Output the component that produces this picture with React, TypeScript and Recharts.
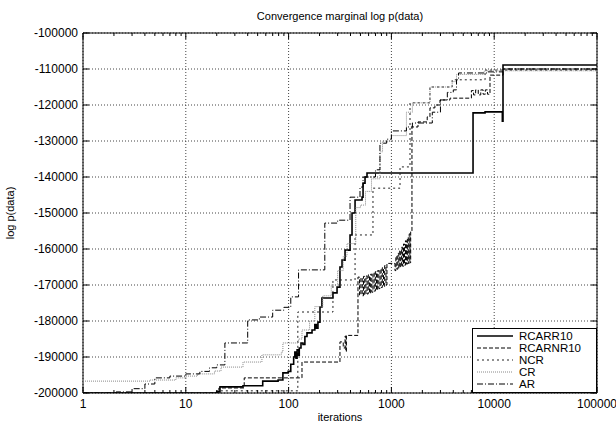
import { LineChart, Line, XAxis, YAxis, CartesianGrid, Legend, ReferenceArea } from 'recharts'

type Pt = [number, number]

const W = 616
const H = 432
const PLOT_LEFT = 83
const PLOT_RIGHT = 597
const PLOT_TOP = 33
const PLOT_BOTTOM = 393
const FONT = '"Liberation Sans", Arial, Helvetica, sans-serif'

const TITLE = 'Convergence marginal log p(data)'
const X_LABEL = 'iterations'
const Y_LABEL = 'log p(data)'

const X_MAJOR = [1, 10, 100, 1000, 10000, 100000]
const X_MINOR_MULT = [2, 3, 4, 5, 6, 7, 8, 9]
const Y_TICKS = [-200000, -190000, -180000, -170000, -160000, -150000, -140000, -130000, -120000, -110000, -100000]

// [iterations, log p(data)], drawn as steps
const RCARR10: Pt[] = [
  [1, -200000], [20, -199700], [21.5, -198300], [36, -198000], [56, -196700], [79, -196400],
  [88, -194400], [99, -194000], [105, -192000], [112, -190000], [115, -188600], [118, -190300],
  [121, -188000], [124, -189500], [127, -187500], [132, -186100], [138, -186500], [144, -184300],
  [151, -183300], [169, -182500], [180, -181000], [186, -182000], [193, -180300], [202, -176100],
  [211, -173600], [270, -172200], [296, -170600], [316, -165000], [331, -163100], [354, -160300],
  [396, -156100], [414, -150000], [443, -146400], [518, -145600], [530, -141700], [554, -140000],
  [579, -138900], [6225, -122200], [8150, -121900], [12000, -124500], [12180, -108900], [100000, -108900],
]

const RCARNR10: Pt[] = [
  [1, -200000], [20, -199800], [21, -198600], [37, -195800], [135, -191400], [316, -185800],
  [340, -187500], [354, -184200], [360, -188500], [365, -184000], [473, -167800], [490, -172800],
  [505, -168000], [520, -173000], [535, -167600], [550, -172700], [565, -167500], [580, -172500],
  [595, -167200], [612, -172300], [628, -167000], [645, -172000], [662, -166600], [680, -171700],
  [698, -166300], [716, -171400], [735, -166000], [755, -171000], [775, -165600], [795, -170700],
  [815, -165200], [838, -170400], [860, -164600], [885, -170000], [905, -164000], [1083, -166000],
  [1105, -162000], [1130, -165600], [1155, -161200], [1180, -165300], [1205, -160400], [1232, -165000],
  [1258, -159500], [1285, -164800], [1312, -158600], [1340, -164500], [1370, -157700], [1400, -164200],
  [1430, -156800], [1460, -164000], [1490, -155800], [1517, -163800], [1540, -155000], [1585, -126100],
  [1815, -124700], [2230, -123300], [2372, -120800], [2650, -120000], [2970, -118600], [3716, -118100],
  [6000, -116000], [6300, -117200], [6600, -115800], [7000, -117200], [7400, -115800], [7800, -117000],
  [8200, -115800], [8600, -117000], [9100, -111700], [12180, -110000], [100000, -110000],
]

const NCR: Pt[] = [
  [1, -200000], [20, -199400], [123, -177500], [270, -168600], [443, -156100], [662, -143100],
  [1213, -137200], [1517, -119400], [2372, -115000], [3900, -113000], [8150, -110300], [100000, -110300],
]

const CR: Pt[] = [
  [1, -196700], [4.5, -196400], [8, -195800], [10, -195300], [13, -194700], [19, -193900],
  [22, -192800], [36, -191400], [55, -189400], [85, -188600], [88, -186100], [125, -185000],
  [135, -182500], [160, -180000], [180, -176000], [215, -173000], [260, -170000], [300, -166000],
  [340, -162000], [370, -158500], [450, -148500], [500, -147800], [560, -144000], [640, -140500],
  [774, -133000], [820, -130000], [1000, -128500], [1400, -122000], [1600, -119400], [2372, -115000],
  [3900, -113500], [4300, -111500], [8000, -110500], [100000, -110300],
]

const AR: Pt[] = [
  [1, -200000], [2.1, -199700], [3, -198800], [4, -197500], [5, -195800], [7, -195300],
  [10, -194700], [13.7, -194000], [17, -193000], [20, -192200], [24, -186100], [40, -179700],
  [52, -178900], [70, -177000], [90, -176200], [105, -173300], [125, -165800], [225, -152800],
  [300, -152000], [396, -145600], [495, -142800], [530, -140000], [700, -138000], [774, -130600],
  [900, -129500], [1000, -127200], [1400, -126100], [1600, -125000], [2500, -122000], [3000, -118600],
  [3500, -116500], [4000, -115800], [4300, -113000], [4500, -111100], [8500, -110800], [12180, -110000],
  [100000, -110000],
]

const SERIES = [
  { name: 'RCARR10', data: RCARR10, stroke: '#000', width: 1.6, dash: undefined as string | undefined },
  { name: 'RCARNR10', data: RCARNR10, stroke: '#000', width: 1, dash: '4 2' },
  { name: 'NCR', data: NCR, stroke: '#222', width: 1, dash: '2 3' },
  { name: 'CR', data: CR, stroke: '#888', width: 1, dash: '1 1' },
  { name: 'AR', data: AR, stroke: '#000', width: 1, dash: '6 2 1 2' },
]

const X_TICKS = [
  ...X_MAJOR,
  ...X_MAJOR.slice(0, -1).flatMap((d) => X_MINOR_MULT.map((m) => m * d)),
].sort((a, b) => a - b)

function XTick({ x, payload }: any) {
  const v = payload.value
  const major = X_MAJOR.includes(v)
  const len = major ? 6 : 3
  return (
    <g>
      <line x1={x} y1={PLOT_BOTTOM} x2={x} y2={PLOT_BOTTOM - len} stroke="#000" />
      <line x1={x} y1={PLOT_TOP} x2={x} y2={PLOT_TOP + len} stroke="#000" />
      {major && (
        <text x={x} y={PLOT_BOTTOM + 15} textAnchor="middle" fontSize={12} fontFamily={FONT} fill="#000">
          {v}
        </text>
      )}
    </g>
  )
}

function YTick({ y, payload }: any) {
  return (
    <g>
      <line x1={PLOT_LEFT} y1={y} x2={PLOT_LEFT + 6} y2={y} stroke="#000" />
      <line x1={PLOT_RIGHT} y1={y} x2={PLOT_RIGHT - 6} y2={y} stroke="#000" />
      <text x={PLOT_LEFT - 5} y={y + 4} textAnchor="end" fontSize={12} fontFamily={FONT} fill="#000">
        {payload.value}
      </text>
    </g>
  )
}

function LegendBox() {
  return (
    <div
      style={{
        width: 125,
        height: 65,
        border: '1px solid #000',
        background: '#fff',
        boxSizing: 'border-box',
        fontFamily: FONT,
        fontSize: 11.5,
        paddingTop: 1,
      }}
    >
      {SERIES.map((s) => (
        <div key={s.name} style={{ display: 'flex', alignItems: 'center', height: 12 }}>
          <svg width={46} height={12} style={{ display: 'block' }}>
            <line x1={4} y1={6} x2={40} y2={6} stroke={s.stroke} strokeWidth={s.width} strokeDasharray={s.dash} />
          </svg>
          <span style={{ color: '#000', display: 'inline-block', height: 12, lineHeight: '12px', overflow: 'visible' }}>
            {s.name}
          </span>
        </div>
      ))}
    </div>
  )
}

// vertical grid only at decades, placed like the log axis places them
const gridX = ({ offset }: any) =>
  X_MAJOR.map((v) => offset.left + (Math.log10(v) / Math.log10(100000)) * offset.width)

export default function App() {
  return (
    <div style={{ position: 'absolute', left: 0, top: 0, width: W, height: H, background: '#fff' }}>
      <div
        style={{
          position: 'absolute', left: PLOT_LEFT, width: PLOT_RIGHT - PLOT_LEFT, top: 9,
          textAlign: 'center', fontFamily: FONT, fontSize: 11, lineHeight: '14px', color: '#000',
        }}
      >
        {TITLE}
      </div>
      <div
        style={{
          position: 'absolute', left: PLOT_LEFT, width: PLOT_RIGHT - PLOT_LEFT, top: 410,
          textAlign: 'center', fontFamily: FONT, fontSize: 11, lineHeight: '14px', color: '#000',
        }}
      >
        {X_LABEL}
      </div>
      <div
        style={{
          position: 'absolute', left: 10 - 50, top: 213 - 7, width: 100, textAlign: 'center',
          transform: 'rotate(-90deg)', fontFamily: FONT, fontSize: 11, lineHeight: '14px', color: '#000',
        }}
      >
        {Y_LABEL}
      </div>
      <LineChart width={W} height={H} margin={{ top: PLOT_TOP, right: W - PLOT_RIGHT, bottom: 0, left: 0 }}>
        <CartesianGrid stroke="#444" strokeDasharray="1 2" verticalCoordinatesGenerator={gridX} />
        <XAxis
          type="number"
          dataKey="0"
          scale="log"
          domain={[1, 100000]}
          allowDataOverflow
          ticks={X_TICKS}
          interval={0}
          tick={<XTick />}
          tickLine={false}
          axisLine={false}
          tickSize={0}
          tickMargin={0}
          height={H - PLOT_BOTTOM}
        />
        <YAxis
          type="number"
          domain={[-200000, -100000]}
          allowDataOverflow
          ticks={Y_TICKS}
          interval={0}
          tick={<YTick />}
          tickLine={false}
          axisLine={false}
          tickSize={0}
          tickMargin={0}
          width={PLOT_LEFT}
        />
        <ReferenceArea
          x1={1}
          x2={100000}
          y1={-200000}
          y2={-100000}
          fill="none"
          fillOpacity={0}
          stroke="#000"
          strokeWidth={1}
        />
        {SERIES.map((s) => (
          <Line
            key={s.name}
            name={s.name}
            data={s.data}
            dataKey="1"
            type="stepAfter"
            stroke={s.stroke}
            strokeWidth={s.width}
            strokeDasharray={s.dash}
            dot={false}
            isAnimationActive={false}
          />
        ))}
        <Legend
          layout="vertical"
          align="center"
          verticalAlign="middle"
          wrapperStyle={{ position: 'absolute', left: 472, top: 328, width: 125, height: 65 }}
          content={() => <LegendBox />}
        />
      </LineChart>
    </div>
  )
}
